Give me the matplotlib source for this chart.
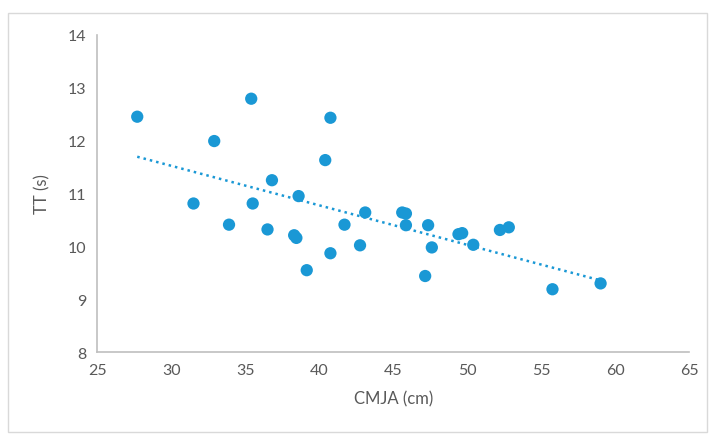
import numpy as np
import matplotlib.pyplot as plt
from matplotlib.patches import Rectangle

# CMJA (cm) vs TT (s)
cmja = [27.7, 31.5, 32.9, 33.9, 35.4, 35.5, 36.5, 36.8, 38.3, 38.45,
        38.6, 39.15, 40.4, 40.75, 40.75, 41.7, 42.75, 43.1, 45.6, 45.85,
        45.85, 47.15, 47.35, 47.6, 49.4, 49.65, 50.4, 52.2, 52.8, 55.75,
        59.0]
tt = [12.45, 10.81, 11.99, 10.41, 12.79, 10.81, 10.32, 11.25, 10.21, 10.16,
      10.95, 9.55, 11.63, 12.43, 9.87, 10.41, 10.02, 10.64, 10.64, 10.62,
      10.40, 9.44, 10.40, 9.98, 10.23, 10.25, 10.03, 10.31, 10.36, 9.19,
      9.30]

x_ticks = [25, 30, 35, 40, 45, 50, 55, 60, 65]
y_ticks = [8, 9, 10, 11, 12, 13, 14]

BLUE = "#1a98d5"
GRID = "#bfbfbf"
TEXT = "#595959"

plt.rcParams["font.family"] = ["Lato", "DejaVu Sans"]

fig = plt.figure(figsize=(7.1, 4.35), dpi=100)
ax = fig.add_axes([0.137, 0.188, 0.834, 0.730])

x = np.array(cmja)
y = np.array(tt)
ax.scatter(x, y, s=78, color=BLUE, edgecolor="none", zorder=3)

# linear trendline, as Excel draws it
slope, icpt = np.polyfit(x, y, 1)
xl = np.array([x.min(), x.max()])
ax.plot(xl, slope * xl + icpt, color=BLUE, lw=1.8, ls=(0, (1, 1.6)), zorder=2)

ax.set_xlim(x_ticks[0], x_ticks[-1])
ax.set_ylim(y_ticks[0], y_ticks[-1])
ax.set_xticks(x_ticks)
ax.set_yticks(y_ticks)
ax.tick_params(length=0, labelsize=11.5, labelcolor=TEXT, pad=8)

for s in ("top", "right"):
    ax.spines[s].set_visible(False)
for s in ("left", "bottom"):
    ax.spines[s].set_color(GRID)
    ax.spines[s].set_linewidth(1.2)

ax.set_xlabel("CMJA (cm)", fontsize=12, color=TEXT, labelpad=9)
ax.set_ylabel("TT (s)", fontsize=12, color=TEXT, labelpad=12)

# light frame round the chart area
fig.patches.append(Rectangle((0.011, 0.005), 0.985, 0.962, transform=fig.transFigure,
                             fill=False, edgecolor="#d9d9d9", lw=1.0))

fig.savefig("out.png", dpi=100)
